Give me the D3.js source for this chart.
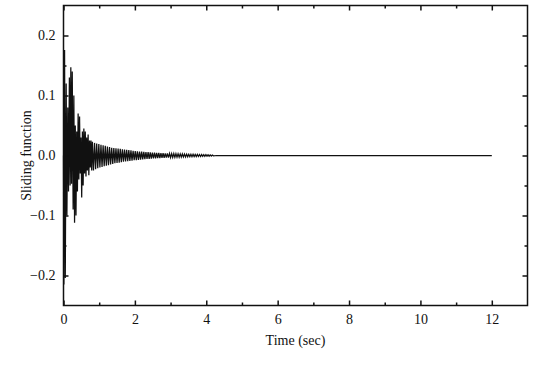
<!DOCTYPE html>
<html><head><meta charset="utf-8">
<script src="https://cdn.jsdelivr.net/npm/d3@7"></script>
<style>
body{margin:0;background:#fff}
svg{display:block}
text{font-family:"Liberation Serif","Times New Roman",serif;fill:#111}
</style>
</head><body>
<svg id="c" width="553" height="383"></svg>
<script>
// ---- data ----
const earlyTime=[0.000,0.010,0.030,0.050,0.075,0.095,0.120,0.140,0.165,0.185,0.205,0.225,0.245,0.270,0.290,0.310,0.330,0.350,0.370,0.390,0.410,0.430,0.450,0.470,0.490,0.510,0.530,0.550,0.570,0.590,0.610,0.630,0.650,0.670,0.690,0.710,0.730,0.750,0.770,0.790];
const earlyValue=[0.000,-0.215,0.176,-0.204,0.120,-0.100,0.080,-0.060,0.130,-0.050,0.147,-0.047,0.140,-0.090,0.100,-0.112,0.050,-0.100,0.040,-0.060,0.070,-0.040,0.065,-0.030,0.030,-0.070,0.040,-0.050,0.045,-0.030,0.040,-0.035,0.030,-0.025,0.035,-0.033,0.025,-0.020,0.025,-0.025];
const midTime=[0.81,0.84,0.87,0.90,0.93,0.96,0.99,1.02,1.05,1.08,1.11,1.14,1.17,1.20,1.23,1.26,1.29,1.32,1.35,1.38,1.41,1.44,1.47,1.50,1.53,1.56,1.59,1.62,1.65,1.68,1.71,1.74,1.77,1.80,1.83,1.86,1.89,1.92,1.95,1.98,2.01,2.04,2.07,2.10,2.13,2.16,2.19,2.22,2.25,2.28,2.31,2.34,2.37,2.40,2.43,2.46,2.49,2.52,2.55,2.58,2.61,2.64,2.67,2.70,2.73,2.76,2.79,2.82,2.85,2.88,2.91,2.94,2.97,3.00,3.03,3.06,3.09,3.12,3.15,3.18,3.21,3.24,3.27,3.30,3.33,3.36,3.39,3.42,3.45,3.48,3.51,3.54,3.57,3.60,3.63,3.66,3.69,3.72,3.75,3.78,3.81,3.84,3.87,3.90,3.93,3.96,3.99,4.02,4.05,4.08,4.11,4.14,4.17,4.20];
const midValue=[
 0.023,-0.025,0.021,-0.023,0.020,-0.021,0.019,-0.020,0.018,-0.019,
 0.017,-0.018,0.016,-0.017,0.015,-0.016,0.014,-0.015,0.013,-0.014,
 0.0125,-0.013,0.012,-0.0125,0.0115,-0.012,0.011,-0.011,0.0105,-0.0105,
 0.010,-0.010,0.0095,-0.0095,0.009,-0.009,0.0085,-0.0085,0.008,-0.008,
 0.0075,-0.0076,0.0071,-0.0072,0.0067,-0.0068,0.0064,-0.0064,0.0061,-0.0061,
 0.0058,-0.0058,0.0055,-0.0055,0.0052,-0.0052,0.0049,-0.005,0.0047,-0.0047,
 0.0045,-0.0045,0.0043,-0.0043,0.0041,-0.0041,0.0039,-0.0039,0.0037,-0.0037,
 0.0035,-0.0035,0.0034,-0.0034,0.0032,-0.0032,0.0031,-0.0031,0.0029,-0.0029,
 0.0028,-0.0028,0.0027,-0.0026,0.0025,-0.0025,0.0024,-0.0024,0.0023,-0.0022,
 0.0021,-0.0021,0.002,-0.002,0.0019,-0.0019,0.0018,-0.0018,0.0017,-0.0017,
 0.0016,-0.0016,0.0015,-0.0015,0.0014,-0.0014,0.0013,-0.0012,0.0012,-0.0011,
 0.001,-0.0009,0.0008,-0.0006];
const tailTime=[4.30,6.00,8.00,10.00,12.00];
const tailValue=[0,0,0,0,0];
const xTicks=[0,2,4,6,8,10,12];
const xMinor=[1,3,5,7,9,11];
const yTicks=[-0.2,-0.1,0.0,0.1,0.2];
const yMinor=[-0.15,-0.05,0.05,0.15];
const xLabel="Time (sec)";
const yLabel="Sliding function";

// ---- drawing ----
const m={l:63.5,t:5.5,w:464,h:300};
const svg=d3.select("#c");
const g=svg.append("g").attr("transform",`translate(${m.l},${m.t})`);
const x=d3.scaleLinear().domain([0,13]).range([0,m.w]);
const y=d3.scaleLinear().domain([-0.25,0.25]).range([m.h,0]);

const pts=[];
[[earlyTime,earlyValue],[midTime,midValue],[tailTime,tailValue]].forEach(([t,v])=>t.forEach((tt,i)=>pts.push([tt,v[i]])));

g.append("path").datum(pts)
 .attr("fill","none").attr("stroke","#111").attr("stroke-width",1.25)
 .attr("d",d3.line().x(d=>x(d[0])).y(d=>y(d[1])));

const fmtY=d3.format(".1f");
function style(sel){
  sel.select(".domain").remove();
  sel.selectAll("line").attr("stroke","#111").attr("stroke-width",1.5);
  sel.selectAll("text").attr("font-size",14).style("font-family",'"Liberation Serif",serif').attr("fill","#111");
}
// major
g.append("g").attr("transform",`translate(0,${m.h})`)
 .call(d3.axisBottom(x).tickValues(xTicks).tickSizeInner(-5).tickSizeOuter(0).tickPadding(9).tickFormat(d3.format("d"))).call(style);
g.append("g").call(d3.axisLeft(y).tickValues(yTicks).tickSizeInner(-5).tickSizeOuter(0).tickPadding(8).tickFormat(fmtY)).call(style);
g.append("g").call(d3.axisTop(x).tickValues(xTicks).tickSizeInner(-5).tickSizeOuter(0).tickFormat("")).call(style);
g.append("g").attr("transform",`translate(${m.w},0)`)
 .call(d3.axisRight(y).tickValues(yTicks).tickSizeInner(-5).tickSizeOuter(0).tickFormat("")).call(style);
// minor
g.append("g").attr("transform",`translate(0,${m.h})`).call(d3.axisBottom(x).tickValues(xMinor).tickSizeInner(-3).tickSizeOuter(0).tickFormat("")).call(style);
g.append("g").call(d3.axisTop(x).tickValues(xMinor).tickSizeInner(-3).tickSizeOuter(0).tickFormat("")).call(style);
g.append("g").call(d3.axisLeft(y).tickValues(yMinor).tickSizeInner(-3).tickSizeOuter(0).tickFormat("")).call(style);
g.append("g").attr("transform",`translate(${m.w},0)`).call(d3.axisRight(y).tickValues(yMinor).tickSizeInner(-3).tickSizeOuter(0).tickFormat("")).call(style);

// frame
g.append("rect").attr("width",m.w).attr("height",m.h).attr("fill","none").attr("stroke","#111").attr("stroke-width",1.5);

// labels
svg.append("text").attr("x",m.l+x(6.5)).attr("y",345).attr("text-anchor","middle").attr("font-size",14).text(xLabel);
svg.append("text").attr("transform",`translate(31,${m.t+y(0)}) rotate(-90)`).attr("text-anchor","middle").attr("font-size",14).text(yLabel);
</script>
</body></html>
